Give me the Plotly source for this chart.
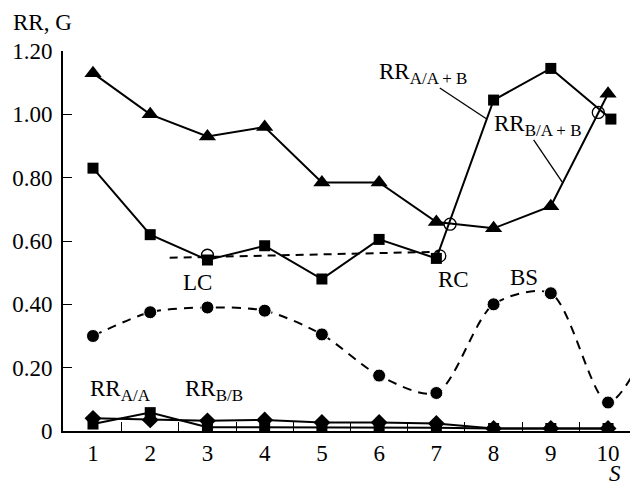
import plotly.graph_objects as go

S = [1, 2, 3, 4, 5, 6, 7, 8, 9, 10]
rr_b_ab = [1.13, 1.00, 0.93, 0.96, 0.785, 0.785, 0.66, 0.64, 0.71, 1.065]
rr_a_ab = [0.83, 0.62, 0.54, 0.585, 0.48, 0.605, 0.545, 1.045, 1.145, 0.985]
rr_a_ab_x = [1, 2, 3, 4, 5, 6, 7, 8, 9, 10.05]
bs_x = [1, 2, 3, 4, 5, 6, 7, 8, 9, 10, 11]
bs = [0.30, 0.375, 0.39, 0.38, 0.305, 0.175, 0.12, 0.40, 0.435, 0.09, 0.38]
rr_aa = [0.04, 0.035, 0.032, 0.035, 0.027, 0.027, 0.024, 0.008, 0.008, 0.008]
rr_bb = [0.022, 0.058, 0.012, 0.012, 0.01, 0.012, 0.01, 0.008, 0.008, 0.008]
lc_rc_x = [2.34, 7.05]
lc_rc_y = [0.547, 0.566]
open_x = [3, 7.06, 7.24, 9.83]
open_y = [0.555, 0.553, 0.653, 1.006]
y_ticks = [0, 0.2, 0.4, 0.6, 0.8, 1.0, 1.2]
y_ticktext = ["0", "0.20", "0.40", "0.60", "0.80", "1.00", "1.20"]

FONT = "Times New Roman"
fig = go.Figure()

fig.add_trace(go.Scatter(x=lc_rc_x, y=lc_rc_y, mode="lines",
                         line=dict(color="black", width=2, dash="8px,6px")))
fig.add_trace(go.Scatter(x=bs_x, y=bs, mode="lines+markers",
                         line=dict(color="black", width=2, dash="9px,7px", shape="spline", smoothing=0.8),
                         marker=dict(symbol="circle", size=[13]*10 + [0], color="black", opacity=1)))
fig.add_trace(go.Scatter(x=S, y=rr_b_ab, mode="lines+markers",
                         line=dict(color="black", width=2),
                         marker=dict(symbol="triangle-up", size=15, color="black")))
fig.add_trace(go.Scatter(x=rr_a_ab_x, y=rr_a_ab, mode="lines+markers",
                         line=dict(color="black", width=2),
                         marker=dict(symbol="square", size=11, color="black")))
fig.add_trace(go.Scatter(x=S, y=rr_aa, mode="lines+markers",
                         line=dict(color="black", width=2),
                         marker=dict(symbol="diamond", size=13, color="black")))
fig.add_trace(go.Scatter(x=S, y=rr_bb, mode="lines+markers",
                         line=dict(color="black", width=2),
                         marker=dict(symbol="square", size=11, color="black")))
fig.add_trace(go.Scatter(x=open_x, y=open_y, mode="markers",
                         marker=dict(symbol="circle-open", size=12, color="black", line=dict(width=1.3))))

# leader lines
fig.add_shape(type="line", x0=7.06, y0=1.083, x1=7.88, y1=0.985, line=dict(color="black", width=1.3))
fig.add_shape(type="line", x0=8.70, y0=0.919, x1=9.20, y1=0.786, line=dict(color="black", width=1.3))

def ann(text, x, y, xanchor="center", yanchor="middle", xref="x", yref="y", size=23):
    fig.add_annotation(text=text, x=x, y=y, xref=xref, yref=yref, xanchor=xanchor, yanchor=yanchor,
                       showarrow=False, font=dict(family=FONT, size=size, color="black"))

sub = lambda s: "<sub><span style='font-size:17px'>%s</span></sub>" % s
ann("RR" + sub("A/A + B"), 5.97, 1.13, xanchor="left")
ann("RR" + sub("B/A + B"), 7.98, 0.965, xanchor="left")
ann("LC", 2.83, 0.47)
ann("RC", 7.30, 0.477)
ann("BS", 8.54, 0.486)
ann("RR" + sub("A/A"), 0.91, 0.128, xanchor="left")
ann("RR" + sub("B/B"), 2.57, 0.128, xanchor="left")
ann("<i>S</i>", 10.13, -0.112, yref="paper")
ann("RR, G", -0.035, 1.076, xref="paper", yref="paper")

fig.update_layout(
    width=630, height=475,
    margin=dict(l=55, r=1, t=43, b=52),
    paper_bgcolor="white", plot_bgcolor="white",
    showlegend=False,
    font=dict(family=FONT, size=23, color="black"),
    xaxis=dict(range=[0.476, 10.506], tickvals=S, ticks="inside", ticklen=0,
               minor=dict(tickvals=[1.5, 2.5, 3.5, 4.5, 5.5, 6.5, 7.5, 8.5, 9.5], ticks="inside",
                          ticklen=9, tickcolor="black", tickwidth=1.3),
               showline=True, linecolor="black", linewidth=2, showgrid=False, zeroline=False,
               tickfont=dict(family=FONT, size=23)),
    yaxis=dict(range=[0, 1.2], tickvals=y_ticks, ticktext=y_ticktext, ticks="inside", ticklen=9,
               tickcolor="black", tickwidth=1.3, ticklabelstandoff=4,
               showline=True, linecolor="black", linewidth=2, showgrid=False, zeroline=False,
               tickfont=dict(family=FONT, size=23)),
)

fig.write_html("out.html")
